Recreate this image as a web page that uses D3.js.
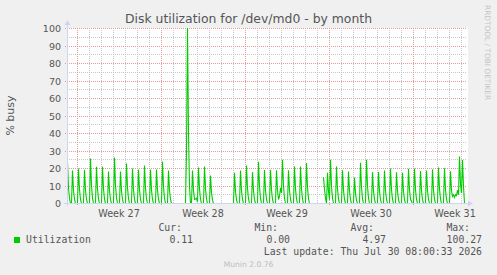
<!DOCTYPE html>
<html>
<head>
<meta charset="utf-8">
<script src="https://cdn.jsdelivr.net/npm/d3@7"></script>
<style>
  html, body { margin: 0; padding: 0; background: #f0f0f0; }
  svg { display: block; }
</style>
</head>
<body>
<div id="wrapper"></div>
<script>
// DATA
const chartTitle = 'Disk utilization for /dev/md0 - by month'
const yAxisTitle = '% busy'
const seriesName = 'Utilization'
const startTime = Date.UTC(2026, 5, 28, 4)   // first sample (left edge)
const stepHours = 2                          // one sample every 2 hours
const spanHours = 800                        // width of the graph in time
const yTicks = [0, 10, 20, 30, 40, 50, 60, 70, 80, 90, 100]
const yMinorTicks = [5, 15, 25, 35, 45, 55, 65, 75, 85, 95]
const legendHeaders = ['Cur:', 'Min:', 'Avg:', 'Max:']
const legendValues = ['0.11', '0.00', '4.97', '100.27']
const lastUpdate = 'Last update: Thu Jul 30 08:00:33 2026'
const watermark = 'RRDTOOL / TOBI OETIKER'
const footer = 'Munin 2.0.76'

// % busy, one row per day (12 samples of 2h), null = no data
const utilization = [
  24, 9, 3, 0, 0, 18.9, 7.6, 2.3, 0, 0, 0, 20,
  8, 2.4, 0, 0, 0, 19.2, 7.7, 2.3, 0, 0, 0, 25.7,
  10.3, 3.1, 0, 0, 0, 21, 8.4, 2.5, 0, 0, 0, 21,
  8.4, 2.5, 0, 0, 0, 18.3, 7.3, 2.2, 0, 0, 0, 26.3,
  10.5, 3.2, 0, 0, 0, 18.3, 7.3, 2.2, 0, 0, 0, 22.9,
  9.2, 2.7, 0, 0, 0, 20, 8, 2.4, 0, 0, 0, 19.4,
  7.8, 2.3, 0, 0, 0, 21.7, 8.7, 2.6, 0, 0, 0, 19.4,
  7.8, 2.3, 0, 0, 0, 19.4, 7.8, 2.3, 0, 0, 0, 24,
  9.6, 2.9, 0, 0, 0, 18.9, 7.6, 2.3, 0, 0, 0, null,
  null, null, null, null, null, null, null, null, null, 0, 0, 30,
  100.27, 40, 10, 0, 0, 18.9, 7.6, 2.3, 2.5, 3, 1, 20.5,
  8.2, 2.5, 0, 0, 0, 21.2, 8.5, 2.5, 0, 0, 0, 16,
  6.4, 1.9, 0, 0, 0, 0, 0, 0, 0, 0, 0, 0,
  0, null, null, null, null, null, null, null, null, null, 0, 17.5,
  7, 2.1, 0, 0, 0, 18.8, 7.5, 2.3, 0, 0, 0, 21.7,
  8.7, 2.6, 0, 0, 0, 18, 7.2, 2.2, 0, 0, 0, 23.8,
  9.5, 2.9, 0, 0, 0, 19.2, 7.7, 2.3, 0, 0, 0, 19.3,
  7.7, 2.3, 0, 0, 0, 19, 7.6, 2.3, 4, 9, 6, 25,
  10, 3, 0, 0, 0, 19, 7.6, 2.3, 0, 0, 0, 21.1,
  8.4, 2.5, 0, 0, 0, 21.1, 8.4, 2.5, 0, 0, 0, 23.2,
  9.3, 2.8, 0, 0, 0, 0, 0, 0, 0, 0, 0, null,
  null, null, null, null, 15, 8, 3, 0, 17.5, 7, 2.1, 25,
  10, 3, 0, 0, 0, 21.1, 8.4, 2.5, 0, 0, 0, 19,
  7.6, 2.3, 0, 0, 0, 18.3, 7.3, 2.2, 0, 0, 0, 14.8,
  5.9, 1.8, 0, 0, 0, 23.3, 9.3, 2.8, 0, 0, 0, 25,
  10, 3, 0, 0, 0, 18, 7.2, 2.2, 0, 0, 0, 18,
  7.2, 2.2, 0, 0, 0, 18.9, 7.6, 2.3, 0, 0, 0, 20,
  8, 2.4, 0, 0, 0, 17.8, 7.1, 2.1, 0, 0, 0, 17.5,
  7, 2.1, 0, 0, 0, 19.8, 7.9, 2.4, 1.3, 0, 0, 20,
  8, 2.4, 0, 0, 0, 18.5, 7.4, 2.2, 0, 0, 0, 18.9,
  7.6, 2.3, 0, 0, 0, 19.5, 7.8, 2.3, 0, 0, 0, 20.6,
  8.2, 2.5, 0, 0, 0, 20.1, 8, 2.4, 0, 0, 0, 18.4,
  7.4, 4, 5, 3.5, 5, 4.5, 7.6, 5, 26.9, 10.8, 6, 24.8,
  9.9, 0.11
]

function drawChart() {
  const width = 497
  const height = 275
  const plot = { left: 67, right: 467, top: 28, bottom: 203 }

  const sansFont = "'DejaVu Sans', sans-serif"
  const monoFont = "'DejaVu Sans Mono', monospace"
  const textColor = '#555555'
  const hour = 3600 * 1000

  const dataset = utilization.map((v, i) => ({ date: new Date(startTime + i * stepHours * hour), value: v }))
  const xAccessor = d => d.date
  const yAccessor = d => d.value

  const svg = d3.select('#wrapper')
    .append('svg')
    .attr('width', width)
    .attr('height', height)

  svg.append('rect')
    .attr('width', width)
    .attr('height', height)
    .attr('fill', '#f0f0f0')

  // SCALES
  const xScale = d3.scaleUtc()
    .domain([new Date(startTime), new Date(startTime + spanHours * hour)])
    .range([plot.left, plot.right])

  const yScale = d3.scaleLinear()
    .domain([0, 100])
    .range([plot.bottom, plot.top])

  const px = v => Math.round(v) + 0.5

  // canvas
  svg.append('rect')
    .attr('x', plot.left)
    .attr('y', plot.top)
    .attr('width', plot.right - plot.left + 1)
    .attr('height', plot.bottom - plot.top)
    .attr('fill', '#ffffff')

  // GRID
  const grid = svg.append('g').attr('shape-rendering', 'crispEdges')
  const minorColor = '#c8c8c8'
  const majorColor = '#e39a9a'

  const [d0, d1] = xScale.domain()
  const mondays = d3.utcMonday.range(d0, d1)
  const days = d3.utcDay.range(d0, d1).filter(d => d.getUTCDay() !== 1)

  grid.selectAll('.xminor')
    .data(days)
    .join('line')
    .attr('x1', d => px(xScale(d))).attr('x2', d => px(xScale(d)))
    .attr('y1', plot.top).attr('y2', plot.bottom)
    .attr('stroke', minorColor)
    .attr('stroke-dasharray', '1,1')

  grid.selectAll('.yminor')
    .data(yMinorTicks)
    .join('line')
    .attr('x1', plot.left).attr('x2', plot.right)
    .attr('y1', d => px(yScale(d))).attr('y2', d => px(yScale(d)))
    .attr('stroke', minorColor)
    .attr('stroke-dasharray', '1,1')

  grid.selectAll('.xmajor')
    .data(mondays)
    .join('line')
    .attr('x1', d => px(xScale(d))).attr('x2', d => px(xScale(d)))
    .attr('y1', plot.top).attr('y2', plot.bottom + 3)
    .attr('stroke', majorColor)
    .attr('stroke-dasharray', '1,1')

  grid.selectAll('.ymajor')
    .data(yTicks.filter(d => d > 0))
    .join('line')
    .attr('x1', plot.left - 2).attr('x2', plot.right)
    .attr('y1', d => px(yScale(d))).attr('y2', d => px(yScale(d)))
    .attr('stroke', majorColor)
    .attr('stroke-dasharray', '1,1')

  // LINE
  const lineGenerator = d3.line()
    .defined(d => yAccessor(d) != null)
    .x(d => xScale(xAccessor(d)) + 0.5)
    .y(d => yScale(yAccessor(d)) + 0.5)

  svg.append('path')
    .attr('d', lineGenerator(dataset))
    .attr('fill', 'none')
    .attr('stroke', '#00cc00')
    .attr('stroke-width', 1.1)
    .attr('stroke-linejoin', 'miter')

  // AXES with arrows
  const axisColor = '#cdd4f6'
  const axes = svg.append('g')
  axes.append('line')
    .attr('x1', px(plot.left)).attr('x2', px(plot.left))
    .attr('y1', plot.bottom + 3).attr('y2', plot.top - 4)
    .attr('stroke', axisColor)
  axes.append('path')
    .attr('d', `M${plot.left - 2.5},${plot.top - 3} L${plot.left + 3.5},${plot.top - 3} L${plot.left + 0.5},${plot.top - 8} Z`)
    .attr('fill', axisColor)
  axes.append('line')
    .attr('x1', plot.left - 3).attr('x2', plot.right + 2)
    .attr('y1', px(plot.bottom)).attr('y2', px(plot.bottom))
    .attr('stroke', axisColor)
  axes.append('path')
    .attr('d', `M${plot.right + 1},${plot.bottom - 2.5} L${plot.right + 1},${plot.bottom + 3.5} L${plot.right + 6},${plot.bottom + 0.5} Z`)
    .attr('fill', axisColor)

  // tick labels
  svg.append('g')
    .selectAll('text')
    .data(yTicks)
    .join('text')
    .attr('x', plot.left - 6)
    .attr('y', d => yScale(d) + 4)
    .attr('text-anchor', 'end')
    .attr('font-family', sansFont)
    .attr('font-size', '9.5px')
    .attr('fill', textColor)
    .text(d => d)

  const weekFormat = d3.utcFormat('Week %V')
  const weekLabels = d3.utcMonday.range(d3.utcMonday.offset(d0, -1), d1)
    .map(d => new Date(+d + 3.5 * 24 * hour))
    .filter(d => xScale(d) > plot.left && xScale(d) < width)

  svg.append('g')
    .selectAll('text')
    .data(weekLabels)
    .join('text')
    .attr('x', d => xScale(d))
    .attr('y', 217)
    .attr('text-anchor', 'middle')
    .attr('font-family', sansFont)
    .attr('font-size', '9.6px')
    .attr('fill', textColor)
    .text(d => weekFormat(d))

  // TITLES
  svg.append('text')
    .attr('x', width / 2)
    .attr('y', 23)
    .attr('text-anchor', 'middle')
    .attr('font-family', sansFont)
    .attr('font-size', '12.4px')
    .attr('fill', textColor)
    .text(chartTitle)

  svg.append('text')
    .attr('transform', `translate(14, ${(plot.top + plot.bottom) / 2}) rotate(-90)`)
    .attr('text-anchor', 'middle')
    .attr('font-family', sansFont)
    .attr('font-size', '11px')
    .attr('fill', textColor)
    .text(yAxisTitle)

  svg.append('text')
    .attr('transform', 'translate(485, 5) rotate(90)')
    .attr('font-family', sansFont)
    .attr('font-size', '7.4px')
    .attr('fill', '#c4c4c4')
    .text(watermark)

  // LEGEND
  const legend = svg.append('g')
    .attr('font-family', monoFont)
    .attr('font-size', '9.8px')
    .attr('fill', textColor)

  const headerEnds = [182, 278, 374, 470]
  const valueEnds = [193, 290, 386, 482]

  legend.selectAll('.hdr')
    .data(legendHeaders)
    .join('text')
    .attr('x', (d, i) => headerEnds[i])
    .attr('y', 231)
    .attr('text-anchor', 'end')
    .text(d => d)

  legend.append('rect')
    .attr('x', 14).attr('y', 237)
    .attr('width', 6).attr('height', 6)
    .attr('fill', '#00cc00')

  legend.append('text')
    .attr('x', 26)
    .attr('y', 243)
    .text(seriesName)

  legend.selectAll('.val')
    .data(legendValues)
    .join('text')
    .attr('x', (d, i) => valueEnds[i])
    .attr('y', 243)
    .attr('text-anchor', 'end')
    .text(d => d)

  legend.append('text')
    .attr('x', 482)
    .attr('y', 255)
    .attr('text-anchor', 'end')
    .text(lastUpdate)

  svg.append('text')
    .attr('x', width / 2)
    .attr('y', 267)
    .attr('text-anchor', 'middle')
    .attr('font-family', sansFont)
    .attr('font-size', '7.6px')
    .attr('fill', '#bdbdbd')
    .text(footer)
}

drawChart()
</script>
</body>
</html>
